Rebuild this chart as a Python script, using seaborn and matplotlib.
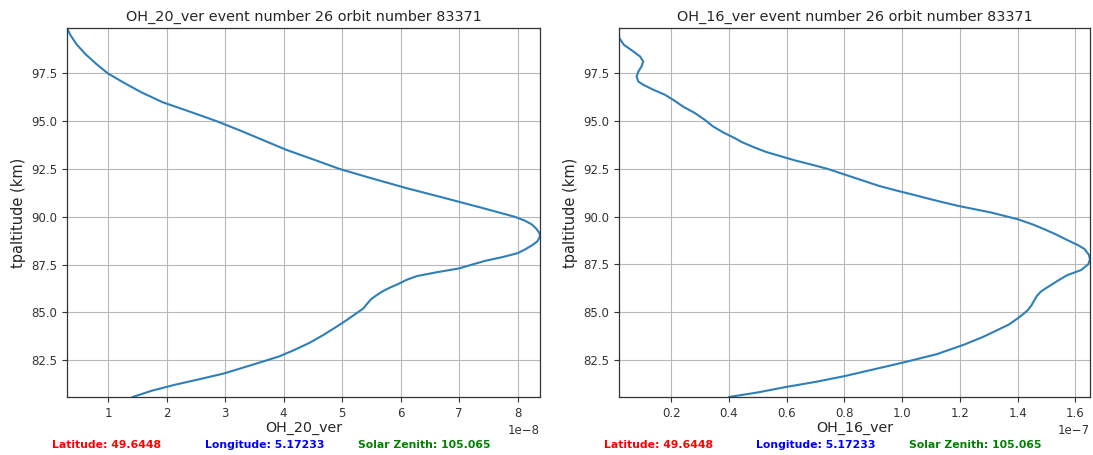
import numpy as np
import pandas as pd
import matplotlib
matplotlib.use("Agg")
import matplotlib.pyplot as plt
import seaborn as sns

# ---- data ----
alt_20 = [99.88, 99.5, 99.0, 98.5, 98.0, 97.5, 97.0, 96.5, 96.0, 95.5, 95.0,
          94.5, 94.0, 93.5, 93.0, 92.5, 92.0, 91.5, 91.0, 90.5, 90.0, 89.8,
          89.6, 89.4, 89.2, 89.05, 88.9, 88.7, 88.5, 88.3, 88.1, 87.9, 87.7,
          87.5, 87.3, 87.1, 86.9, 86.7, 86.5, 86.3, 86.1, 85.9, 85.7, 85.5,
          85.2, 84.9, 84.6, 84.2, 83.8, 83.4, 83.0, 82.7, 82.4, 82.1, 81.8,
          81.5, 81.2, 80.9, 80.57]
ver_20 = [0.30, 0.36, 0.47, 0.62, 0.80, 1.0, 1.28, 1.58, 1.93, 2.4, 2.86,
          3.27, 3.66, 4.05, 4.51, 4.96, 5.52, 6.1, 6.73, 7.35, 7.95, 8.12,
          8.24, 8.31, 8.36, 8.38, 8.37, 8.33, 8.24, 8.13, 8.0, 7.75, 7.45,
          7.22, 7.0, 6.62, 6.28, 6.1, 5.97, 5.82, 5.69, 5.59, 5.5, 5.44,
          5.36, 5.22, 5.08, 4.88, 4.67, 4.44, 4.16, 3.93, 3.62, 3.30, 2.98,
          2.56, 2.13, 1.75, 1.42]  # x 1e-8

alt_16 = [99.86, 99.6, 99.33, 98.98, 98.63, 98.37, 98.11, 97.85, 97.58, 97.32,
          97.06, 96.89, 96.63, 96.37, 96.10, 95.75, 95.41, 95.06, 94.71, 94.4,
          94.1, 93.89, 93.6, 93.37, 93.15, 92.93, 92.7, 92.5, 92.2, 91.9,
          91.6, 91.36, 91.15, 90.9, 90.75, 90.56, 90.21, 89.86, 89.6, 89.34,
          89.05, 88.77, 88.5, 88.3, 88.0, 87.75, 87.5, 87.2, 86.93, 86.65,
          86.41, 86.2, 86.06, 85.85, 85.62, 85.35, 85.1, 84.9, 84.67, 84.35,
          84.06, 83.7, 83.3, 82.8, 82.35, 82.0, 81.65, 81.35, 81.08, 80.8,
          80.56]
ver_16 = [0.019, 0.019, 0.02, 0.036, 0.069, 0.092, 0.103, 0.097, 0.086, 0.080,
          0.086, 0.103, 0.138, 0.178, 0.207, 0.241, 0.282, 0.316, 0.345, 0.38,
          0.42, 0.445, 0.49, 0.53, 0.58, 0.63, 0.69, 0.74, 0.80, 0.86,
          0.92, 0.98, 1.036, 1.10, 1.14, 1.193, 1.308, 1.40, 1.45, 1.492,
          1.535, 1.572, 1.61, 1.632, 1.647, 1.651, 1.645, 1.62, 1.572, 1.54,
          1.515, 1.493, 1.48, 1.467, 1.458, 1.448, 1.435, 1.42, 1.40, 1.37,
          1.33, 1.28, 1.215, 1.12, 1.0, 0.9, 0.80, 0.70, 0.596, 0.50,
          0.40]  # x 1e-7

channels = ["OH_20_ver", "OH_16_ver"]
scales = [1e-8, 1e-7]
event_number = 26
orbit_number = 83371
latitude = "49.6448"
longitude = "5.17233"
solar_zenith = "105.065"

sns.set_style("ticks")
plt.rcParams['font.family'] = ['DejaVu Sans']

fig = plt.figure(figsize=(10.93, 4.55), dpi=100)
ax_pos = [[67 / 1093, 58 / 455, 473 / 1093, 369 / 455],
          [619 / 1093, 58 / 455, 471 / 1093, 369 / 455]]
footer_x = [[0.0473, 0.1871, 0.3274], [0.553, 0.6915, 0.8312]]

profiles = [(alt_20, ver_20), (alt_16, ver_16)]
for i, (alts, vers) in enumerate(profiles):
    ax = fig.add_axes(ax_pos[i])
    df = pd.DataFrame({"alt": alts, "ver": np.array(vers) * scales[i]})
    sns.lineplot(data=df, x="ver", y="alt", sort=False, estimator=None,
                 color="#2f7fb8", linewidth=1.5, ax=ax)
    ax.margins(0)
    ax.grid(True, color="#b8b8b8", linewidth=0.8)
    for s in ax.spines.values():
        s.set_visible(True)
        s.set_color("#333333")
        s.set_linewidth(0.9)
    ax.tick_params(labelsize=8.5, length=3.5, width=0.8, colors="#333333")
    ax.xaxis.get_offset_text().set_fontsize(8.5)
    ax.set_title(f"{channels[i]} event number {event_number} orbit number {orbit_number}",
                 fontsize=10.4, pad=5)
    ax.set_xlabel(channels[i], fontsize=10.3, labelpad=1)
    ax.set_ylabel("tpaltitude (km)", fontsize=10.5, labelpad=4)
    fx = footer_x[i]
    fig.text(fx[0], 0.022, f"Latitude: {latitude}", color="red",
             fontsize=7.8, fontweight="bold", va="center")
    fig.text(fx[1], 0.022, f"Longitude: {longitude}", color="blue",
             fontsize=7.8, fontweight="bold", va="center")
    fig.text(fx[2], 0.022, f"Solar Zenith: {solar_zenith}", color="green",
             fontsize=7.8, fontweight="bold", va="center")

fig.savefig("out.png", dpi=100)
